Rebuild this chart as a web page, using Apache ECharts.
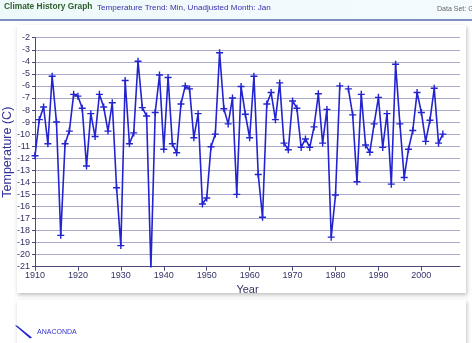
<!DOCTYPE html>
<html><head><meta charset="utf-8">
<script src="https://cdn.jsdelivr.net/npm/echarts@6/dist/echarts.min.js"></script>
<style>html,body{margin:0;padding:0;background:#fff}#c{width:472px;height:343px}</style>
</head><body><div id="c"></div>
<script>
const years = [];
for (let y = 1910; y <= 2005; y++) years.push(y);
const tempMin = [
 -11.8,-8.8,-7.75,-10.8,-5.2,-9.0,-18.4,-10.8,-9.75,-6.7,
 -6.85,-7.85,-12.65,-8.3,-10.2,-6.7,-7.75,-9.75,-7.4,-14.45,
 -19.25,-5.55,-10.8,-9.9,-3.95,-7.8,-8.5,-21.1,-8.2,-5.1,
 -11.25,-5.3,-10.8,-11.55,-7.5,-6.0,-6.25,-10.3,-8.3,-15.8,
 -15.3,-11.05,-10.0,-3.25,-7.9,-9.15,-7.0,-15.0,-6.05,-8.35,
 -10.3,-5.2,-13.35,-16.9,-7.5,-6.55,-8.8,-5.75,-10.75,-11.3,
 -7.25,-7.85,-11.1,-10.4,-11.1,-9.4,-6.65,-10.75,-7.95,-18.55,
 -15.05,-6.0,null,-6.25,-8.4,-13.95,-6.7,-10.9,-11.5,-9.15,
 -6.95,-11.1,-8.3,-14.15,-4.2,-9.15,-13.6,-11.25,-9.7,-6.55,
 -8.2,-10.6,-8.85,-6.2,-10.75,-10.0
];
const xTicks = [1910,1920,1930,1940,1950,1960,1970,1980,1990,2000];
const seriesName = 'ANACONDA';
const titleMain = 'Climate History Graph';
const titleSub = 'Temperature Trend: Min, Unadjusted Month: Jan';
const dataSetLabel = 'Data Set: G';

const chart = echarts.init(document.getElementById('c'), null, {renderer:'canvas'});
const font = 'Liberation Sans, Arial, sans-serif';
const plus = 'path://M4,0H6V4H10V6H6V10H4V6H0V4H4Z';
chart.setOption({
  animation:false,
  backgroundColor:'#fff',
  graphic:[
    {type:'rect', z:-10, shape:{x:0,y:0,width:472,height:19}, style:{fill:new echarts.graphic.LinearGradient(0,0,1,0,[{offset:0,color:'#eef9f9'},{offset:1,color:'#f3fbff'}])}},
    {type:'rect', z:-10, shape:{x:0,y:19,width:472,height:2}, style:{fill:'#7f8fbf'}},
    {type:'rect', z:-10, shape:{x:17,y:25,width:449,height:268}, style:{fill:'#fff', shadowBlur:4, shadowColor:'rgba(0,0,0,0.25)', shadowOffsetX:1, shadowOffsetY:2}},
    {type:'rect', z:-10, shape:{x:17,y:300,width:449,height:50}, style:{fill:'#fff', shadowBlur:4, shadowColor:'rgba(0,0,0,0.25)', shadowOffsetX:1, shadowOffsetY:2}},
    {type:'text', x:4, y:2.5, style:{text:titleMain, font:'bold 8.4px '+font, fill:'#2f5f2f'}},
    {type:'text', x:97, y:3.5, style:{text:titleSub, font:'8.1px '+font, fill:'#3a2fae'}},
    {type:'text', x:437, y:6, style:{text:dataSetLabel, font:'7px '+font, fill:'#666'}}
  ],
  legend:{
    left:15, top:325.5, orient:'horizontal', padding:0,
    itemWidth:17, itemHeight:13, itemGap:2,
    icon:'path://M0,0L2,0L17,12L15,13Z',
    textStyle:{fontSize:7, color:'#3333cc', fontFamily:font, padding:[-7,0,0,0]},
    data:[seriesName]
  },
  grid:{left:35, right:12, top:37.7, bottom:76.3, outerBoundsMode:'none', containLabel:false},
  xAxis:{
    type:'value', min:1910, max:2009, interval:10,
    name:'Year', nameLocation:'middle', nameGap:14,
    nameTextStyle:{fontSize:11, color:'#333366', fontFamily:font},
    axisLine:{onZero:false, lineStyle:{color:'#4a4a7a', width:1}},
    axisTick:{show:true, length:4, inside:false, customValues:xTicks, lineStyle:{color:'#4a4a7a'}},
    axisLabel:{fontSize:9, color:'#333366', fontFamily:font, margin:4, customValues:xTicks, formatter:v=>String(v)},
    splitLine:{show:false}
  },
  yAxis:{
    type:'value', min:-21, max:-2, interval:1,
    name:'Temperature (C)', nameLocation:'middle', nameGap:21, nameRotate:90, nameMoveOverlap:false,
    nameTextStyle:{fontSize:12.5, color:'#333399', fontFamily:font},
    axisLine:{show:true, lineStyle:{color:'#4a4a7a'}},
    axisTick:{show:true, length:3, lineStyle:{color:'#4a4a7a'}},
    axisLabel:{fontSize:9, color:'#333366', fontFamily:font, margin:5},
    splitLine:{show:true, lineStyle:{color:'#a9a9c9', width:1}}
  },
  series:[{
    name:seriesName, type:'line',
    data:years.map((y,i)=>[y,tempMin[i]]),
    connectNulls:false,
    symbol:plus, symbolSize:7,
    itemStyle:{color:'#2323d0'},
    lineStyle:{color:'#2323d0', width:1.6},
    clip:true
  }]
});
</script></body></html>
